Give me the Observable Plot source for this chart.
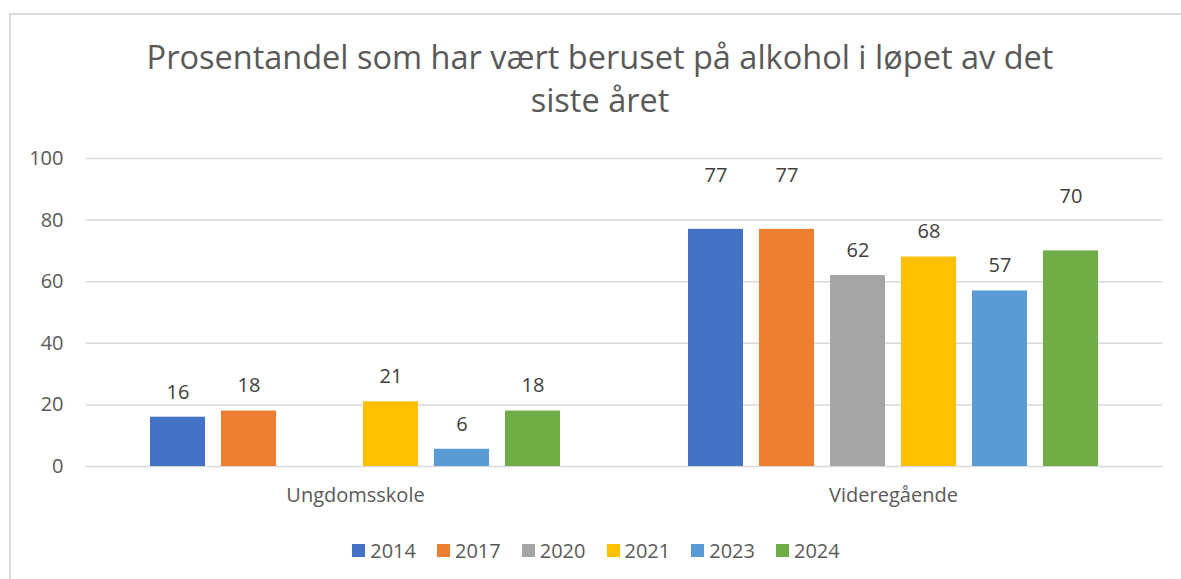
<!DOCTYPE html>
<html>
<head>
<meta charset="utf-8">
<script src="https://cdn.jsdelivr.net/npm/d3@7"></script>
<script src="https://cdn.jsdelivr.net/npm/@observablehq/plot@0.6"></script>
<style>
  html, body { margin: 0; padding: 0; background: #fff; }
  body { width: 1181px; height: 579px; position: relative; overflow: hidden; font-family: "Open Sans", sans-serif; }
  #frame { position: absolute; left: 9px; top: 13px; width: 1300px; height: 700px; border: 2px solid #d9d9d9; box-sizing: border-box; }
  #title { position: absolute; left: 0; top: 35px; width: 1200px; text-align: center; font-size: 32.5px; line-height: 43px; color: #595959; }
  #chart { position: absolute; left: 0; top: 140px; }
  #legend { position: absolute; top: 537px; left: 0; width: 1192px; display: flex; justify-content: center; gap: 21px; font-size: 20px; color: #595959; }
  .item { display: flex; align-items: center; gap: 5px; }
  .sw { width: 13px; height: 13px; display: inline-block; }
</style>
</head>
<body>
<div id="frame"></div>
<div id="title">Prosentandel som har vært beruset på alkohol i løpet av det<br>siste året</div>
<div id="chart"></div>
<div id="legend"></div>
<script>
const levels = ["Ungdomsskole", "Videregående"];
const years = ["2014", "2017", "2020", "2021", "2023", "2024"];
const ungdomsskole = [16, 18, null, 21, 5.6, 18];
const videregaende = [77, 77, 62, 68, 57, 70];
const yTicks = [0, 20, 40, 60, 80, 100];
const colors = ["#4472C4", "#ED7D31", "#A5A5A5", "#FFC000", "#5B9BD5", "#70AD47"];

const series = {"Ungdomsskole": ungdomsskole, "Videregående": videregaende};
const data = [];
for (const lv of levels) {
  years.forEach((yr, i) => {
    const v = series[lv][i];
    if (v != null) data.push({level: lv, year: yr, value: v});
  });
}
// labels that sit higher above their bars in the original
const raised = new Set(["Videregående|2014", "Videregående|2017", "Videregående|2024"]);
const isRaised = d => raised.has(d.level + "|" + d.year);

const chart = Plot.plot({
  width: 1181,
  height: 376,
  marginTop: 18,
  marginBottom: 50,
  marginLeft: 86,
  marginRight: 19,
  style: {fontFamily: "Open Sans, sans-serif", fontSize: "20px", color: "#595959", background: "transparent"},
  fx: {domain: levels, paddingInner: 0, paddingOuter: 0, label: null},
  x: {domain: years, paddingInner: 0.22, paddingOuter: 0.87, axis: null},
  y: {domain: [0, 100], label: null},
  color: {domain: years, range: colors},
  marks: [
    Plot.gridY(yTicks, {stroke: "#d9d9d9", strokeOpacity: 1, strokeWidth: 1.5}),
    Plot.axisY(yTicks, {tickSize: 0, tickPadding: 23, label: null, fill: "#595959", fontSize: 20}),
    Plot.axisFx({anchor: "bottom", tickSize: 0, tickPadding: 21, label: null, fill: "#595959", fontSize: 20}),
    Plot.barY(data, {fx: "level", x: "year", y: "value", fill: "year"}),
    Plot.text(data.filter(d => !isRaised(d)), {fx: "level", x: "year", y: "value", text: d => d3.format(".0f")(d.value), dy: -25, fill: "#404040", fontSize: 20}),
    Plot.text(data.filter(isRaised), {fx: "level", x: "year", y: "value", text: d => d3.format(".0f")(d.value), dy: -54, fill: "#404040", fontSize: 20})
  ]
});
document.getElementById("chart").appendChild(chart);

const legend = document.getElementById("legend");
years.forEach((yr, i) => {
  const it = document.createElement("div");
  it.className = "item";
  it.innerHTML = `<span class="sw" style="background:${colors[i]}"></span><span>${yr}</span>`;
  legend.appendChild(it);
});
</script>
</body>
</html>
